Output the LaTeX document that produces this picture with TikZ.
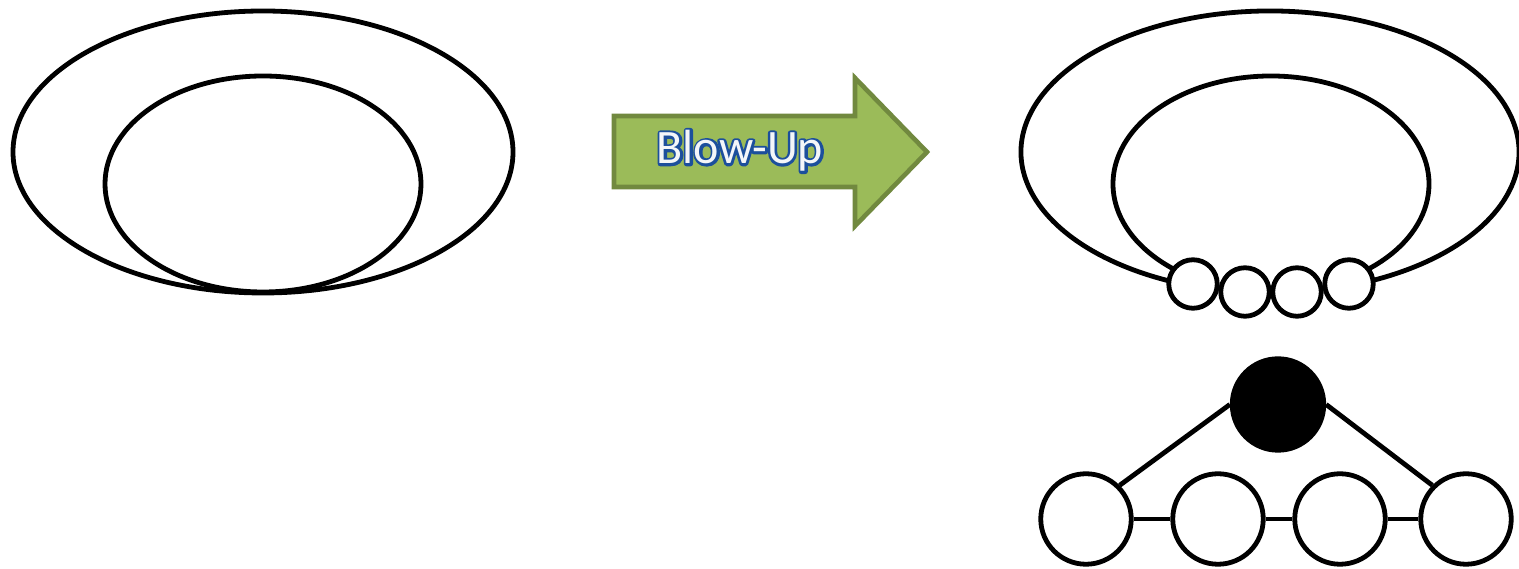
\documentclass[tikz,border=0pt]{standalone}
\usepackage{fontspec}
\newfontfamily\calfont{Carlito}
\definecolor{arrowfill}{HTML}{9BBB59}
\definecolor{arrowline}{HTML}{71893F}
\definecolor{textfill}{HTML}{F4F6F9}
\newcommand{\outlinedtext}[1]{\rlap{\special{pdf:literal direct 1 Tr 5 w 1 j 0.11 0.31 0.61 RG}#1\special{pdf:literal direct 0 Tr 0.4 w 0 j}}#1}
\tikzset{
  ln/.style={line width=4.8pt, black},
  smallc/.style={circle, draw=black, line width=4.8pt, fill=white, minimum size=48.5pt, inner sep=0pt},
  bigc/.style={circle, draw=black, line width=4.8pt, fill=white, minimum size=90.5pt, inner sep=0pt},
  rootc/.style={circle, draw=black, line width=4.8pt, fill=black, minimum size=91.5pt, inner sep=0pt},
  edge/.style={line width=4.8pt, black}
}
\begin{document}
\begin{tikzpicture}[x=1pt,y=1pt]
\useasboundingbox (0,0) rectangle (1519,569);
% left figure
\draw[ln] (263,417) ellipse [x radius=250, y radius=141];
\draw[ln] (263,385) ellipse [x radius=158, y radius=108];
% right figure
\draw[ln] (1270,417) ++(-70:249 and 141) arc[start angle=-70, end angle=250, x radius=249, y radius=141];
\draw[ln] (1271,385) ++(-56:158 and 108) arc[start angle=-56, end angle=236, x radius=158, y radius=108];
\node[smallc] (s1) at (1193,285) {};
\node[smallc] (s4) at (1349,285) {};
\node[smallc] (s2) at (1245,277) {};
\node[smallc] (s3) at (1297,277) {};
% graph
\node[rootc] (r) at (1278,164.5) {};
\node[bigc] (g1) at (1086,50) {};
\node[bigc] (g2) at (1218,50) {};
\node[bigc] (g3) at (1340,50) {};
\node[bigc] (g4) at (1466,50) {};
\draw[edge] (r.west) -- (g1.north east);
\draw[edge] (r.east) -- (g4.north west);
\draw[edge] (g1.east) -- (g2.west);
\draw[edge] (g2.east) -- (g3.west);
\draw[edge] (g3.east) -- (g4.west);
% arrow
\draw[line width=4.6pt, draw=arrowline, fill=arrowfill, line join=miter]
  (614,453) -- (855,453) -- (855,491) -- (927,417) -- (855,343) -- (855,382) -- (614,382) -- cycle;
\node[font=\calfont\fontsize{48}{54}\selectfont, text=textfill] (blowup) at (740,418) {\outlinedtext{Blow-Up}};
\end{tikzpicture}
\end{document}
